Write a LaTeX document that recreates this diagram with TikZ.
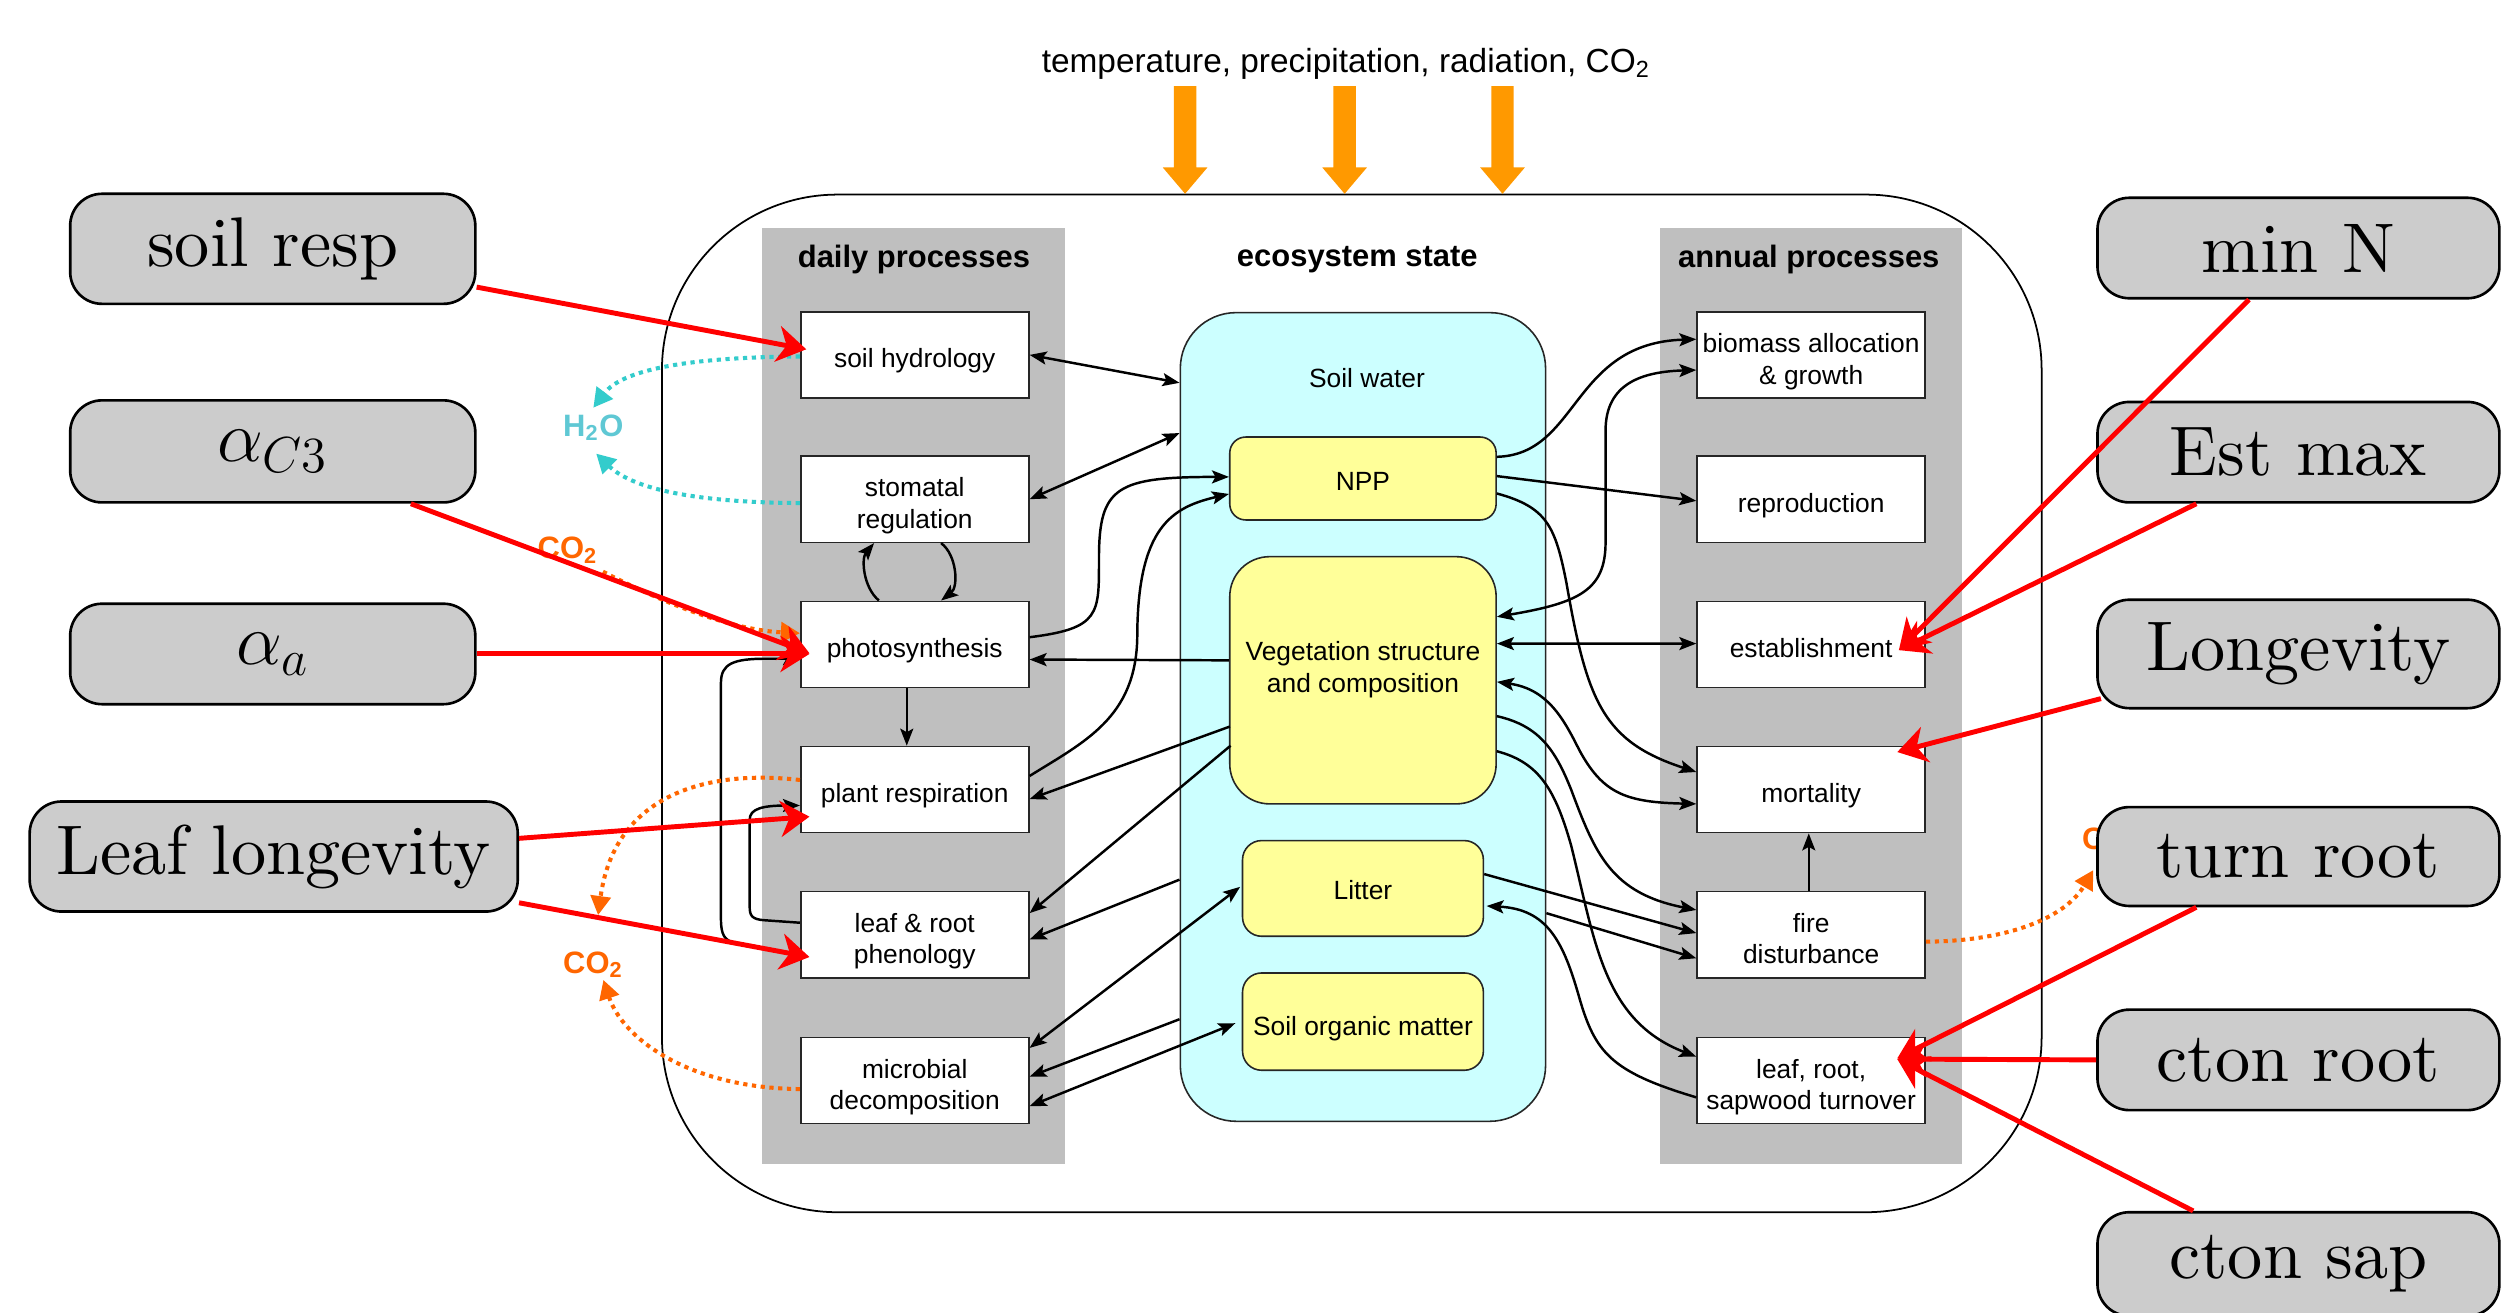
\documentclass[tikz,border=0pt]{standalone}
\usepackage{fontspec}
\newfontfamily\arial{Liberation Sans}
\newfontfamily\lmten{lmroman10-regular.otf}
\usetikzlibrary{arrows.meta,calc}
\newlength\uu
\setlength\uu{0.01595cm}
\newcommand\vstrut{\rule[-1.7pt]{0pt}{10.7pt}}
\newcommand\vstruttall{\rule[-1.7pt]{0pt}{20pt}}
\definecolor{colgray}{RGB}{191,191,191}
\definecolor{cyanfill}{RGB}{204,255,255}
\definecolor{yel}{RGB}{255,255,153}
\definecolor{lblgray}{RGB}{204,204,204}
\definecolor{orgbig}{RGB}{255,153,0}
\definecolor{orgdot}{RGB}{255,102,0}
\definecolor{cydot}{RGB}{51,204,204}
\definecolor{htwoo}{RGB}{95,200,212}
\tikzset{
 blktip/.tip={Stealth[length=0.17cm,width=0.13cm,inset=0.035cm]},
 redtip/.tip={Stealth[length=0.29cm,width=0.36cm,inset=0.09cm]},
 dottip/.tip={Triangle[length=0.19cm,width=0.2cm]},
 blk/.style={draw=black, line width=0.7pt, -blktip},
 blkd/.style={draw=black, line width=0.7pt, blktip-blktip},
 redarr/.style={draw=red, line width=1.4pt, -redtip},
 cyd/.style={draw=cydot, line width=1.15pt, dash pattern=on 1.2pt off 1.3pt, -dottip},
 ord/.style={draw=orgdot, line width=1.15pt, dash pattern=on 1.2pt off 1.3pt, -dottip},
 wboxbase/.style={draw=black!85, line width=0.45pt, fill=white, minimum width=143\uu, minimum height=54\uu, inner sep=0pt, align=center, font=\arial\fontsize{7.5}{9}\selectfont},
 wbox/.style={wboxbase, execute at begin node=\vstrut, execute at end node=\vstrut},
 wboxtwo/.style={wboxbase, execute at begin node=\vstruttall, execute at end node=\vstrut},
 ybox/.style={draw=black!85, line width=0.45pt, fill=yel, inner sep=0pt, align=center, font=\arial\fontsize{7.5}{9}\selectfont},
 txt/.style={inner sep=0pt, align=center, font=\arial\fontsize{7.5}{9}\selectfont},
 hdr/.style={inner sep=0pt, font=\arial\bfseries\fontsize{8.8}{10}\selectfont},
 lab/.style={inner sep=0pt, font=\arial\bfseries\fontsize{8.8}{10}\selectfont},
 lbl/.style={draw=black, line width=0.75pt, fill=lblgray, rounded corners=20\uu, inner sep=0pt, font=\lmten\fontsize{20}{24}\selectfont},
}
\begin{document}
\begin{tikzpicture}[x=0.01595cm, y={-0.01595cm}]
\useasboundingbox (0,0) rectangle (1568,823);
\fill[white] (0,0) rectangle (1568,823);

% outer frame
\draw[line width=0.5pt, rounded corners=110\uu] (415,122) rectangle (1280,760);
% grey columns
\fill[colgray] (478,143) rectangle (668,730);
\fill[colgray] (1041,143) rectangle (1230,730);
\node[hdr] (hdaily) at (573,163) {daily processes};
\node[hdr] (hecos) at (851,163) {ecosystem state};
\node[hdr] (hannual) at (1134,163) {annual processes};

% ecosystem state
\node[draw=black!85, line width=0.45pt, fill=cyanfill, rounded corners=35\uu, minimum width=229\uu, minimum height=507\uu] (sw) at (854.5,449.5) {};
\node[txt] (swt) at (857,237) {Soil water};
\node[ybox, rounded corners=10\uu, minimum width=167\uu, minimum height=52\uu] (npp) at (854.5,300) {\rule{0pt}{7pt}NPP};
\node[ybox, rounded corners=25\uu, minimum width=167\uu, minimum height=155\uu] (veg) at (854.5,426.5) {};
\node[txt] (vegt) at (854.5,420) {Vegetation structure\\and composition};
\node[ybox, rounded corners=12\uu, minimum width=151\uu, minimum height=60\uu] (litter) at (854.5,557) {\rule{0pt}{6.5pt}Litter};
\node[ybox, rounded corners=12\uu, minimum width=151\uu, minimum height=61\uu] (som) at (854.5,640.5) {\rule{0pt}{9.5pt}Soil organic matter};

% daily processes
\node[wbox] (shyd) at (573.5,222.5) {soil hydrology};
\node[wboxtwo] (stom) at (573.5,313) {stomatal\\regulation};
\node[wbox] (phot) at (573.5,404) {photosynthesis};
\node[wbox] (resp) at (573.5,495) {plant respiration};
\node[wboxtwo] (phen) at (573.5,586) {leaf \& root\\phenology};
\node[wboxtwo] (micr) at (573.5,677.5) {microbial\\decomposition};
% annual processes
\node[wboxtwo] (bio) at (1135.5,222.5) {biomass allocation\\\& growth};
\node[wbox] (repr) at (1135.5,313) {reproduction};
\node[wbox] (est) at (1135.5,404) {establishment};
\node[wbox] (mort) at (1135.5,495) {mortality};
\node[wboxtwo] (fire) at (1135.5,586) {fire\\disturbance};
\node[wboxtwo] (turn) at (1135.5,677.5) {leaf, root,\\sapwood turnover};

% title and forcing arrows
\node[inner sep=0pt, font=\arial\fontsize{9.5}{11}\selectfont] (title) at (844,40) {temperature, precipitation, radiation, CO\textsubscript{2}};
\foreach \xx in {743,843,942}
  \fill[orgbig] (\xx-7,54) -- (\xx+7,54) -- (\xx+7,105) -- (\xx+14,105) -- (\xx,121.5) -- (\xx-14,105) -- (\xx-7,105) -- cycle;

% black connectors, left
\draw[blkd] (shyd.east) -- ($(sw.west)+(0,-209.5)$);
\draw[blkd] (stom.east) -- ($(sw.west)+(0,-178)$);
\draw[blk] ($(phot.east)+(0,-4.5)$) .. controls (690,394) and (689,385) .. (689,350) .. controls (689,305) and (700,299) .. ($(npp.west)+(0,-1)$);
\draw[blk] ($(resp.east)+(0,-8.5)$) .. controls (680,465) and (712,450) .. (713,400) .. controls (713,330) and (735,318) .. ($(npp.west)+(0,9.7)$);
\draw[blk] ($(veg.west)+(0,-12.5)$) -- ($(phot.east)+(0,9.5)$);
\draw[blk] ($(veg.west)+(0.6,29)$) -- ($(resp.east)+(0,6)$);
\draw[blk] ($(veg.west)+(1,41)$) -- ($(phen.east)+(0,-13.5)$);
\draw[blk] ($(sw.west)+(0,102)$) -- ($(phen.east)+(0,3)$);
\draw[blkd] ($(micr.east)+(0,-20.5)$) -- ($(litter.west)+(-1,-1)$);
\draw[blk] ($(sw.west)+(0,189.5)$) -- ($(micr.east)+(0,-2.5)$);
\draw[blkd] ($(micr.east)+(0,16)$) -- ($(som.west)+(-4,1)$);
\draw[blk] ($(phot.south)+(-5,0)$) -- ($(resp.north)+(-5,0)$);
\draw[blk] ($(phot.north)+(-22.5,0)$) .. controls (541,368) and (540,350) .. ($(stom.south)+(-25.5,0)$);
\draw[blk] ($(stom.south)+(16.5,0)$) .. controls (600,348) and (601,368) .. ($(phot.north)+(16.5,0)$);
\draw[blk] ($(phen.west)+(0,13)$) -- (462,591.45) .. controls (454,590) and (452,586) .. (452,576) -- (452,428) .. controls (452,416) and (460,413) .. (480,413) -- ($(phot.west)+(0,9)$);
\draw[blk] ($(phen.west)+(0,-7.5)$) -- (480,577) .. controls (471,576.5) and (470,574) .. (470,568) -- (470,514) .. controls (470,507) and (478,505) .. ($(resp.west)+(0,10)$);

% black connectors, right
\draw[blk] ($(npp.east)+(0,-13.6)$) .. controls (990,285) and (985,215) .. ($(bio.west)+(0,-9.8)$);
\draw[blkd] ($(veg.east)+(0,-39.8)$) .. controls (990,378) and (1006.6,370) .. (1006.6,340) -- (1006.6,270) .. controls (1006.6,240) and (1030,233) .. ($(bio.west)+(0,9.5)$);
\draw[blk] ($(npp.east)+(0,-1.5)$) -- ($(repr.west)+(0,1)$);
\draw[blkd] ($(veg.east)+(0,-23)$) -- ($(est.west)+(0,-0.5)$);
\draw[blk] ($(npp.east)+(0,9.4)$) .. controls (970,318) and (975,330) .. (982,365) .. controls (995,440) and (1005,465) .. ($(mort.west)+(0,-11)$);
\draw[blkd] ($(veg.east)+(0,1)$) .. controls (970,432) and (980,450) .. (990,470) .. controls (1005,498) and (1020,503) .. ($(mort.west)+(0,9)$);
\draw[blk] ($(veg.east)+(0,22.5)$) .. controls (965,455) and (975,470) .. (985,495) .. controls (1000,535) and (1010,560) .. ($(fire.west)+(0,-15.5)$);
\draw[blk] ($(veg.east)+(0,44.5)$) .. controls (965,478) and (975,495) .. (985,530) .. controls (1000,590) and (1005,640) .. ($(turn.west)+(0,-15)$);
\draw[blk] ($(litter.east)+(0,-9)$) -- ($(fire.west)+(0,-1)$);
\draw[blk] ($(sw.east)+(0,123)$) -- ($(fire.west)+(0,14.8)$);
\draw[blk] ($(turn.west)+(0,10.5)$) .. controls (1010,672) and (1000,660) .. (990,625) .. controls (980,590) and (970,570) .. ($(litter.east)+(1.5,11)$);
\draw[blk] ($(fire.north)+(-1.5,0)$) -- ($(mort.south)+(-1.5,0)$);

% dotted fluxes
\node[lab, text=htwoo] (h2o) at (372,268) {H\textsubscript{2}O};
\node[lab, text=orgdot] (co2a) at (356,345) {CO\textsubscript{2}};
\node[lab, text=orgdot] (co2b) at (372,605) {CO\textsubscript{2}};
\node[lab, text=orgdot, anchor=west] (co2c) at (1305,527) {CO\textsubscript{2}};
\coordinate (h2oT) at (372,255.6);
\coordinate (h2oB) at (373.8,284.4);
\coordinate (cA) at (378,358.4);
\coordinate (cBT) at (375,573.7);
\coordinate (cBB) at (378.3,614.4);
\coordinate (cC) at (1312.4,545.5);
\draw[cyd] ($(shyd.west)+(0,1)$) .. controls (430,224) and (390,232) .. (h2oT);
\draw[cyd] ($(stom.west)+(0,2.4)$) .. controls (430,315) and (395,305) .. (h2oB);
\draw[ord] (cA) .. controls (420,380) and (460,395) .. ($(phot.west)+(0,-7)$);
\draw[ord] ($(resp.west)+(0,-6)$) .. controls (440,482) and (385,500) .. (cBT);
\draw[ord] ($(micr.west)+(0,5.3)$) .. controls (430,682) and (390,650) .. (cBB);
\draw[ord] ($(fire.east)+(0,4.4)$) .. controls (1260,590) and (1295,575) .. (cC);

% parameter labels
\node[lbl, minimum width=254\uu, minimum height=69\uu] (soilresp) at (171,156) {soil resp};
\node[lbl, minimum width=254\uu, minimum height=64\uu, font=\lmten\fontsize{21}{24}\selectfont] (ac3) at (171,283) {$\alpha_{C3}$};
\node[lbl, minimum width=254\uu, minimum height=63\uu, font=\lmten\fontsize{21}{24}\selectfont] (aa) at (171,410) {$\alpha_a$};
\node[lbl, minimum width=306\uu, minimum height=69\uu] (leaflong) at (171.6,537) {Leaf longevity};
\node[lbl, minimum width=252\uu, minimum height=63\uu] (minN) at (1441,155.5) {min N};
\node[lbl, minimum width=252\uu, minimum height=63\uu] (estmax) at (1441,283.5) {Est max};
\node[lbl, minimum width=252\uu, minimum height=68\uu] (longev) at (1441,410) {Longevity};
\node[lbl, minimum width=252\uu, minimum height=62\uu] (turnroot) at (1441,537) {turn root};
\node[lbl, minimum width=252\uu, minimum height=63\uu] (ctonroot) at (1441,664.5) {cton root};
\node[lbl, minimum width=252\uu, minimum height=65\uu] (ctonsap) at (1441,792.5) {cton sap};

% red parameter arrows
\draw[redarr] ($(soilresp.east)+(0,24)$) -- ($(shyd.west)+(4,-3.5)$);
\draw[redarr] ($(ac3.south)+(86.6,0)$) -- ($(phot.west)+(6,5.6)$);
\draw[redarr] (aa.east) -- ($(phot.west)+(6,6)$);
\draw[redarr] ($(leaflong.east)+(0,-11.4)$) -- ($(resp.west)+(6,17)$);
\draw[redarr] ($(leaflong.east)+(0,29)$) -- ($(phen.west)+(6,14)$);
\draw[redarr] ($(minN.south)+(-31,0)$) -- ($(est.east)+(-17,3.6)$);
\draw[redarr] ($(estmax.south)+(-64,0)$) -- ($(est.east)+(-17,3.6)$);
\draw[redarr] ($(longev.west)+(3,28)$) -- ($(mort.east)+(-18,-23.5)$);
\draw[redarr] ($(turnroot.south)+(-64,0)$) -- ($(turn.east)+(-18,-14)$);
\draw[redarr] (ctonroot.west) -- ($(turn.east)+(-18,-13.5)$);
\draw[redarr] ($(ctonsap.north)+(-66,0)$) -- ($(turn.east)+(-18,-13.5)$);
\end{tikzpicture}
\end{document}
